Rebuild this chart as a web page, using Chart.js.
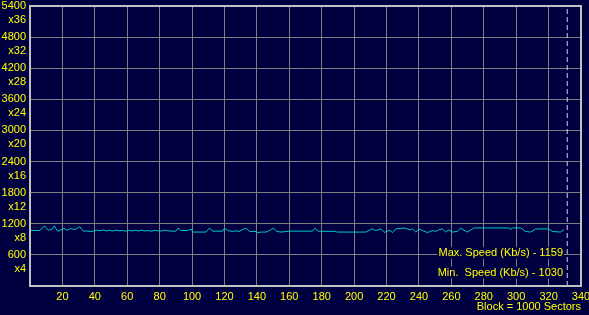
<!DOCTYPE html>
<html><head><meta charset="utf-8">
<script src="https://cdn.jsdelivr.net/npm/chart.js@4"></script>
<style>html,body{margin:0;padding:0;background:#000040;overflow:hidden}#wrap{width:589px;height:315px}</style>
</head><body><div id="wrap"><canvas id="c" width="589" height="315"></canvas></div>
<script>
const blockPositions = [0,6,9,11.5,12.5,13.5,15,17,19,21,23,25,27,28.5,30.7,33,35,37,39,41,43,45,47,49,51,53,55,57,59,61,63,65,67,69,71,73,75,77,79,81,83,85,87,90,91.5,93,97.3,99.4,100.4,108.6,110.7,112.8,119,120,122,125,127,129,131,133.3,135.4,139.5,140.5,142.6,145.7,147.7,150.2,152.3,155,160,170.5,174.3,175.7,177.8,185.6,187.6,189.7,207.2,208.6,211.3,213.4,216.5,218.5,220.2,222.3,223.7,225.7,230.9,232.9,234.6,236,238.1,240.1,242.2,245.3,248.4,250.4,252.5,254.5,256.5,258.4,260.5,263.6,265.7,269.8,272.9,274,295.5,296.5,297.5,302.8,305.8,308.9,312,320.2,322.3,327.4,329.5];
const speedValues = [1071,1071,1159,1071,1095,1088,1159,1058,1080,1108,1075,1110,1090,1100,1145,1055,1062,1052,1058,1078,1066,1082,1062,1072,1060,1078,1065,1070,1058,1072,1062,1074,1060,1076,1062,1068,1058,1074,1064,1060,1076,1066,1058,1058,1118,1070,1070,1100,1040,1040,1115,1058,1058,1115,1070,1052,1065,1052,1085,1115,1052,1052,1030,1040,1040,1070,1115,1052,1040,1058,1058,1058,1115,1058,1052,1058,1040,1040,1065,1100,1070,1100,1032,1058,1070,1030,1100,1118,1100,1085,1100,1040,1100,1070,1030,1070,1052,1085,1100,1040,1085,1040,1052,1115,1040,1100,1120,1120,1085,1120,1120,1052,1040,1100,1100,1052,1040,1085];
const endMarkerBlock = [331.5];
const xTickValues = [20,40,60,80,100,120,140,160,180,200,220,240,260,280,300,320,340];
const yTickValues = [600,1200,1800,2400,3000,3600,4200,4800,5400];
const yTickMultipliers = ['x4','x8','x12','x16','x20','x24','x28','x32','x36'];
const statLabels = ['Max. Speed (Kb/s) - 1159','Min.  Speed (Kb/s) - 1030'];
const xAxisTitle = 'Block = 1000 Sectors';

const FONT = '"Liberation Sans", Arial, sans-serif';
const YEL = '#ffff00';
const BG = '#000040';

const framePlugin = {
  id: 'frame',
  beforeDraw(chart) {
    const ctx = chart.ctx;
    ctx.save(); ctx.fillStyle = BG; ctx.fillRect(0, 0, chart.width, chart.height); ctx.restore();
  },
  afterDatasetsDraw(chart) {
    const {ctx, chartArea: a} = chart;
    ctx.save();
    ctx.font = '11px ' + FONT;
    ctx.textAlign = 'right';
    ctx.textBaseline = 'middle';
    const rx = a.right - 18;
    const ys = [a.bottom - 33, a.bottom - 13.5];
    statLabels.forEach((t, i) => {
      const w = ctx.measureText(t).width;
      ctx.fillStyle = BG;
      ctx.fillRect(rx - w - 1, ys[i] - 6, w + 2, 12);
      ctx.fillStyle = YEL;
      ctx.fillText(t, rx, ys[i]);
    });
    ctx.restore();
  },
  afterDraw(chart) {
    const {ctx, chartArea: a} = chart;
    ctx.save();
    ctx.strokeStyle = '#c0c0c0';
    ctx.lineWidth = 2;
    ctx.strokeRect(a.left, a.top, a.right - a.left, a.bottom - a.top);
    ctx.restore();
  }
};

new Chart(document.getElementById('c'), {
  type: 'line',
  data: {
    datasets: [
      { data: blockPositions.map((x, i) => ({x, y: speedValues[i]})), borderColor: '#00c8c8', borderWidth: 1, pointRadius: 0, tension: 0 },
      { data: [{x: endMarkerBlock[0], y: 0}, {x: endMarkerBlock[0], y: 5400}], borderColor: '#d0d0e0', borderWidth: 1, borderDash: [5, 3], pointRadius: 0 }
    ]
  },
  options: {
    responsive: false,
    animation: false,
    events: [],
    layout: { padding: { top: 6, right: 8, left: 0, bottom: 0 } },
    plugins: { legend: { display: false }, tooltip: { enabled: false } },
    scales: {
      x: {
        type: 'linear', min: 0, max: 340,
        ticks: {
          stepSize: 20, autoSkip: false, maxRotation: 0, color: YEL, padding: 4,
          font: { family: FONT, size: 11 },
          callback: v => xTickValues.includes(v) ? String(v) : ''
        },
        grid: { color: '#808080', lineWidth: 1, drawTicks: false },
        border: { display: false },
        title: { display: true, text: xAxisTitle, align: 'end', color: YEL, font: { family: FONT, size: 11 }, padding: { top: 0, bottom: 1 } },
        afterFit(s) { s.height = 29; s.paddingLeft = 0; s.paddingRight = 0; }
      },
      y: {
        min: 0, max: 5400,
        ticks: {
          stepSize: 600, autoSkip: false, color: YEL, padding: 4, labelOffset: 7,
          font: { family: FONT, size: 11, lineHeight: 14 / 11 },
          callback: v => { const i = yTickValues.indexOf(v); return i < 0 ? '' : [String(v), yTickMultipliers[i]]; }
        },
        grid: { color: '#808080', lineWidth: 1, drawTicks: false },
        border: { display: false },
        afterFit(s) { s.width = 30; s.paddingTop = 0; s.paddingBottom = 0; }
      }
    }
  },
  plugins: [framePlugin]
});
</script></body></html>
